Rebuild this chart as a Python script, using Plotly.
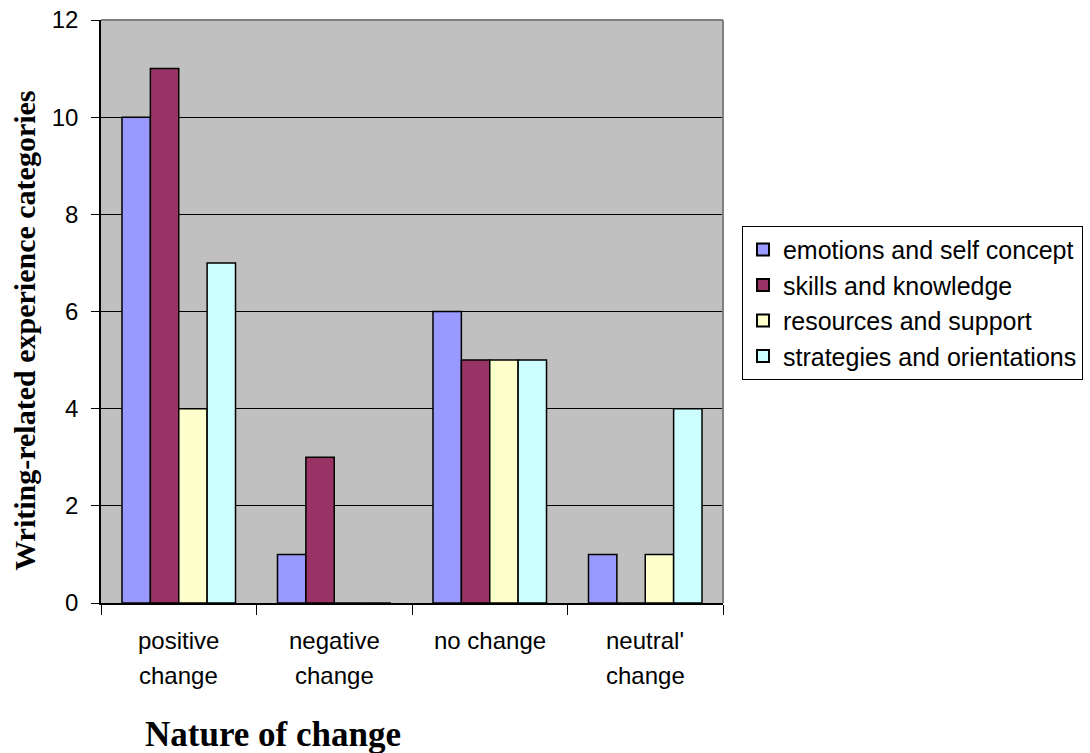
import plotly.graph_objects as go

categories = ["positive change", "negative change", "no change", "neutral' change"]
category_lines = [["positive", "change"], ["negative", "change"], ["no change", ""], ["neutral'", "change"]]

series_names = [
    "emotions and self concept",
    "skills and knowledge",
    "resources and support",
    "strategies and orientations",
]
emotions = [10, 1, 6, 1]
skills = [11, 3, 5, 0]
resources = [4, 0, 5, 1]
strategies = [7, 0, 5, 4]
series_values = [emotions, skills, resources, strategies]
series_colors = ["#9999FF", "#993366", "#FFFFCC", "#CCFFFF"]

y_ticks = [0, 2, 4, 6, 8, 10, 12]

SANS = "Arial, Liberation Sans"
SERIF = "Times New Roman, Liberation Serif"

fig = go.Figure()
for name, vals, col in zip(series_names, series_values, series_colors):
    fig.add_trace(go.Bar(
        x=categories, y=vals, name=name,
        marker=dict(color=col, line=dict(color="black", width=1.5)),
    ))

# two-line category labels under the axis
for cat, (l1, l2) in zip(categories, category_lines):
    for i, line in enumerate([l1, l2]):
        if not line:
            continue
        fig.add_annotation(
            x=cat, xref="x", y=-0.065 - i * 0.06, yref="paper",
            text=line, showarrow=False, yanchor="middle",
            font=dict(family=SANS, size=24, color="black"),
        )

# axis titles
fig.add_annotation(
    x=0.277, xref="paper", y=-0.226, yref="paper",
    text="<b>Nature of change</b>", showarrow=False,
    xanchor="center", yanchor="middle",
    font=dict(family=SERIF, size=35, color="black"),
)
fig.add_annotation(
    x=-0.122, xref="paper", y=0.467, yref="paper",
    text="<b>Writing-related experience categories</b>", showarrow=False,
    textangle=-90, xanchor="center", yanchor="middle",
    font=dict(family=SERIF, size=30, color="black"),
)

# gray frame on the top and right of the plot area
fig.add_shape(type="line", xref="paper", yref="paper", x0=0, x1=1, y0=1, y1=1,
              line=dict(color="#808080", width=2))
fig.add_shape(type="line", xref="paper", yref="paper", x0=1, x1=1, y0=0, y1=1,
              line=dict(color="#808080", width=2))

fig.update_layout(
    width=1090, height=753,
    margin=dict(l=101, r=367, t=20, b=150, autoexpand=False),
    paper_bgcolor="white",
    plot_bgcolor="#C0C0C0",
    barmode="group",
    bargap=0.27,
    bargroupgap=0,
    showlegend=True,
    legend=dict(
        x=1.0305, y=0.647, xanchor="left", yanchor="top",
        bgcolor="white", bordercolor="black", borderwidth=1,
        font=dict(family=SANS, size=25, color="black"),
        tracegroupgap=0, itemsizing="constant",
    ),
    xaxis=dict(
        showticklabels=False,
        ticks="outside", ticklen=10, tickcolor="black",
        tickson="boundaries",
        showline=True, linecolor="black", linewidth=1.5,
        showgrid=False, automargin=False,
    ),
    yaxis=dict(
        range=[0, 12], tickvals=y_ticks,
        ticks="outside", ticklen=8, tickcolor="black",
        ticklabelstandoff=8,
        showline=True, linecolor="black", linewidth=1.5,
        showgrid=True, gridcolor="black", gridwidth=1,
        zeroline=False, automargin=False,
        tickfont=dict(family=SANS, size=24, color="black"),
    ),
)

fig.write_html("out.html")
